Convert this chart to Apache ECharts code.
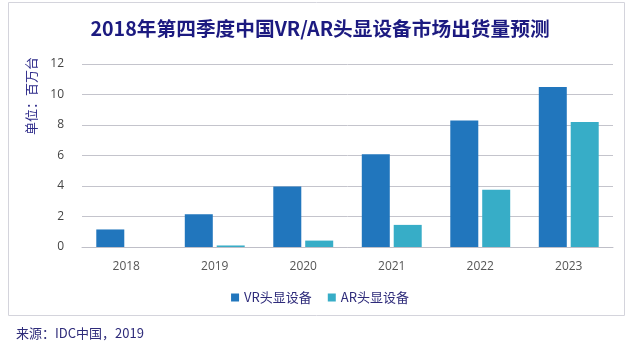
<!DOCTYPE html>
<html><head><meta charset="utf-8">
<script src="https://cdn.jsdelivr.net/npm/echarts@6/dist/echarts.min.js"></script>
<style>html,body{margin:0;padding:0;background:#fff}#c{width:640px;height:359px}</style>
</head><body><div id="c"></div>
<script>
var categories = ['2018','2019','2020','2021','2022','2023'];
var vrValues = [1.15, 2.15, 3.97, 6.08, 8.3, 10.5];
var arValues = [0, 0.1, 0.42, 1.45, 3.75, 8.2];
var seriesNames = ['VR头显设备','AR头显设备'];
var chart = echarts.init(document.getElementById('c'));
var font = '"Noto Sans CJK SC", "Open Sans", sans-serif';
chart.setOption({
  animation:false,
  textStyle:{fontFamily:font},
  title:{text:'2018年第四季度中国VR/AR头显设备市场出货量预测',left:'center',top:14,
    textStyle:{fontSize:19.7,fontWeight:'bold',color:'#1c1a80',fontFamily:font}},
  grid:{left:82,right:27,top:64,bottom:112},
  legend:{data:seriesNames,bottom:50,left:'center',itemWidth:8,itemHeight:8,itemGap:16,icon:'rect',
    textStyle:{fontSize:13,color:'#2e2b7a',fontFamily:font}},
  xAxis:{type:'category',data:categories,axisTick:{show:false},
    axisLine:{lineStyle:{color:'#bfbfc8'}},
    axisLabel:{color:'#555',fontSize:12,margin:14,fontFamily:'"Open Sans", sans-serif'}},
  yAxis:{type:'value',min:0,max:12,interval:2,
    axisLabel:{color:'#444',fontSize:12,margin:18,fontFamily:'"Open Sans", sans-serif'},
    splitLine:{lineStyle:{color:'#c4c4cc'}}},
  series:[
    {name:seriesNames[0],type:'bar',data:vrValues,barWidth:28,barGap:'14%',itemStyle:{color:'#2176bd'}},
    {name:seriesNames[1],type:'bar',data:arValues,barWidth:28,itemStyle:{color:'#37adc7'}}
  ],
  graphic:[
    {type:'rect',shape:{x:8.5,y:2.5,width:616,height:313},style:{fill:'none',stroke:'#d4d4dc',lineWidth:1},z:-1},
    {type:'text',x:31,y:96,rotation:Math.PI/2,style:{text:'单位：百万台',fill:'#2e2b8a',font:'13px '+font,textAlign:'center',textVerticalAlign:'middle'}},
    {type:'text',x:16,y:333,style:{text:'来源：IDC中国，2019',fill:'#2e2b7a',font:'13px '+font,textVerticalAlign:'middle'}}
  ]
});
</script></body></html>
